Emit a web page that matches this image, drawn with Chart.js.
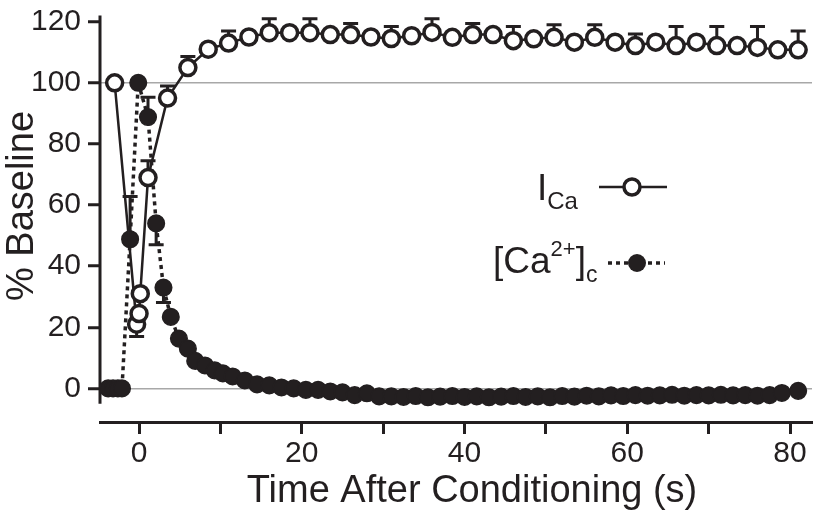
<!DOCTYPE html>
<html><head><meta charset="utf-8">
<script src="https://cdn.jsdelivr.net/npm/chart.js@4.4.0/dist/chart.umd.min.js"></script>
<style>html,body{margin:0;padding:0;background:#fff;}#c{display:block;}</style>
</head><body>
<canvas id="c" width="814" height="522"></canvas>
<script>
// ---- Data ----
const icaTime = [-3, -0.3, 0, 0.15, 1.1,
  3.5, 6, 8.5, 11, 13.5, 16, 18.5, 21, 23.5, 26, 28.5, 31, 33.5, 36, 38.5, 41, 43.5, 46, 48.5,
  51, 53.5, 56, 58.5, 61, 63.5, 66, 68.5, 71, 73.5, 76, 78.5, 81];
const icaValue = [100, 21, 24.5, 31, 69,
  95, 105, 111, 113, 115, 116.4, 116.4, 116.4, 115.8, 115.8, 115, 114.5, 115.4, 116.5, 114.9, 115.8, 115.8, 113.8, 114.4,
  114.9, 113.3, 114.9, 113.3, 112.2, 113.3, 112.2, 113.3, 112.2, 112.2, 111.6, 110.8, 110.8];
// signed SEM: positive = bar drawn upward, negative = downward
const icaErr = [0, -4, 0, 0, 5.5,
  4, 3.6, 0, 4, 0, 4.6, 0, 4.6, 0, 3.6, 0, 3.9, 0, 4.5, 0, 3.6, 0, 4.6, 0,
  4.1, 0, 4.1, 0, 3.8, 0, 6.2, 0, 6.2, 0, 6.8, 0, 6.2];

const caTime = [-3.8, -3.2, -2.6, -2.1, -1.1, -0.1, 1.1, 2.1, 3.0, 3.9, 4.9, 6, 6.9, 8.1, 9.3, 10.3,
  11.5, 13, 14.5, 16, 17.5, 19, 20.5, 22, 23.5, 25, 26.5, 28, 29.5,
  31, 32.5, 34, 35.5, 37, 38.5, 40, 41.5, 43, 44.5, 46, 47.5, 49, 50.5, 52, 53.5, 55, 56.5, 58, 59.5,
  61, 62.5, 64, 65.5, 67, 68.5, 70, 71.5, 73, 74.5, 76, 77.5, 79, 81];
const caValue = [0, 0, 0, 0, 48.8, 100, 88.8, 54, 33, 23.4, 16.3, 13, 9, 7.5, 5.9, 4.9,
  3.9, 2.6, 1.3, 1, 0.3, 0, -0.5, -0.5, -1, -1.3, -2.2, -1.6, -2.6,
  -2.6, -2.8, -2.5, -2.9, -2.7, -2.5, -2.8, -2.6, -2.9, -2.7, -2.5, -2.8, -2.6, -2.9, -2.5, -2.7, -2.4, -2.6, -2.3, -2.5,
  -2.2, -2.4, -2.3, -2.1, -2.4, -2.2, -2.3, -2.1, -2.3, -2.2, -2.4, -2.2, -1.5, -0.8];
const caErr = [0, 0, 0, 0, 14, 0, 6.5, -7, -4.9];

const xTicks = [0, 10, 20, 30, 40, 50, 60, 70, 80];
const xLabelTicks = [0, 20, 40, 60, 80];
const yTicks = [0, 20, 40, 60, 80, 100, 120];
const yGridValues = [0, 100];
const xTitle = 'Time After Conditioning (s)';
const yTitle = '% Baseline';

const INK = '#231f20';
const GRID = '#a8a8a8';
const FONT = '"Liberation Sans", Arial, Helvetica, sans-serif';

const toPts = (xs, ys) => xs.map((x, i) => ({x: x, y: ys[i]}));

const errorBars = {
  id: 'errorBars',
  beforeDatasetsDraw(chart) {
    const ctx = chart.ctx, xs = chart.scales.x, ys = chart.scales.y;
    ctx.save();
    ctx.strokeStyle = INK;
    ctx.lineWidth = 3;
    chart.data.datasets.forEach(ds => {
      const err = ds.errors || [];
      ds.data.forEach((p, i) => {
        const e = err[i];
        if (!e) return;
        const px = xs.getPixelForValue(p.x);
        const py0 = ys.getPixelForValue(p.y);
        const py1 = ys.getPixelForValue(p.y + e);
        ctx.beginPath();
        ctx.moveTo(px, py0); ctx.lineTo(px, py1);
        ctx.moveTo(px - 7.5, py1); ctx.lineTo(px + 7.5, py1);
        ctx.stroke();
      });
    });
    ctx.restore();
  }
};

const yAxisLine = {
  id: 'yAxisLine',
  beforeDatasetsDraw(chart) {
    const ctx = chart.ctx, ys = chart.scales.y, x = chart.chartArea.left;
    ctx.save();
    ctx.strokeStyle = INK; ctx.lineWidth = 3;
    ctx.beginPath();
    ctx.moveTo(x, ys.getPixelForValue(122));
    ctx.lineTo(x, ys.getPixelForValue(-5));
    ctx.stroke();
    ctx.restore();
  }
};

function drawRuns(ctx, x, baseline, runs) {
  let cx = x;
  runs.forEach(r => {
    ctx.font = r.size + 'px ' + FONT;
    ctx.fillText(r.t, cx, baseline + (r.dy || 0));
    cx += ctx.measureText(r.t).width;
  });
}

const textPlugin = {
  id: 'customText',
  afterDraw(chart) {
    const ctx = chart.ctx;
    ctx.save();
    ctx.fillStyle = INK;
    // axis titles
    ctx.font = '38px ' + FONT;
    ctx.textAlign = 'center';
    ctx.textBaseline = 'middle';
    ctx.fillText(xTitle, 472, 492);
    ctx.save();
    ctx.translate(23, 206);
    ctx.rotate(-Math.PI / 2);
    ctx.fillText(yTitle, 0, 0);
    ctx.restore();
    // legend
    ctx.textBaseline = 'alphabetic';
    ctx.textAlign = 'left';
    drawRuns(ctx, 537, 200, [{t: 'I', size: 37}, {t: 'Ca', size: 24, dy: 9}]);
    ctx.strokeStyle = INK; ctx.lineWidth = 2.5;
    ctx.beginPath(); ctx.moveTo(599, 187); ctx.lineTo(667, 187); ctx.stroke();
    ctx.beginPath(); ctx.arc(632, 187, 8, 0, Math.PI * 2);
    ctx.fillStyle = '#fff'; ctx.fill(); ctx.lineWidth = 3.5; ctx.stroke();
    ctx.fillStyle = INK;
    drawRuns(ctx, 493, 273, [{t: '[Ca', size: 37}, {t: '2+', size: 22, dy: -17}, {t: ']', size: 37}, {t: 'c', size: 23, dy: 9}]);
    ctx.lineWidth = 3.5; ctx.setLineDash([4, 4]);
    ctx.beginPath(); ctx.moveTo(608, 263); ctx.lineTo(665, 263); ctx.stroke();
    ctx.setLineDash([]);
    ctx.beginPath(); ctx.arc(637, 263, 9, 0, Math.PI * 2); ctx.fill();
    ctx.restore();
  }
};

new Chart(document.getElementById('c'), {
  type: 'line',
  data: {
    datasets: [
      {
        label: 'I_Ca', data: toPts(icaTime, icaValue), errors: icaErr,
        borderColor: INK, borderWidth: 2.5, tension: 0,
        pointRadius: 8, pointHoverRadius: 8, pointBorderWidth: 3.5,
        pointBackgroundColor: '#fff', pointBorderColor: INK, clip: false
      },
      {
        label: '[Ca2+]c', data: toPts(caTime, caValue), errors: caErr,
        borderColor: INK, borderWidth: 3.5, borderDash: [4, 4], tension: 0,
        pointRadius: 8.3, pointHoverRadius: 8.3, pointBorderWidth: 1.5,
        pointBackgroundColor: INK, pointBorderColor: INK, clip: false
      }
    ]
  },
  options: {
    responsive: false, animation: false, devicePixelRatio: 1,
    layout: {autoPadding: false, padding: {top: 15.6, right: 2, left: 0, bottom: 0}},
    plugins: {legend: {display: false}, tooltip: {enabled: false}},
    scales: {
      x: {
        type: 'linear', min: -4.8, max: 82.7,
        afterFit: s => { s.height = 100; s.paddingLeft = 0; s.paddingRight = 0; },
        afterBuildTicks: s => { s.ticks = xTicks.map(v => ({value: v})); },
        border: {display: true, color: INK, width: 3},
        grid: {color: 'rgba(0,0,0,0)', drawOnChartArea: false, tickColor: INK, tickWidth: 3, tickLength: 12},
        ticks: {
          autoSkip: false, maxRotation: 0, padding: 2, color: INK,
          font: {family: FONT, size: 30},
          callback: v => xLabelTicks.includes(v) ? String(v) : ''
        },
        title: {display: false}
      },
      y: {
        type: 'linear', min: -11, max: 122,
        afterFit: s => { s.width = 100; s.paddingTop = 0; s.paddingBottom = 0; },
        afterBuildTicks: s => { s.ticks = yTicks.map(v => ({value: v})); },
        border: {display: false},
        grid: {
          color: c => (c.tick && yGridValues.includes(c.tick.value)) ? GRID : 'rgba(0,0,0,0)',
          lineWidth: 1.5, tickColor: INK, tickWidth: 3, tickLength: 12
        },
        ticks: {padding: 7, color: INK, font: {family: FONT, size: 30}},
        title: {display: false}
      }
    }
  },
  plugins: [errorBars, yAxisLine, textPlugin]
});
</script>
</body></html>
